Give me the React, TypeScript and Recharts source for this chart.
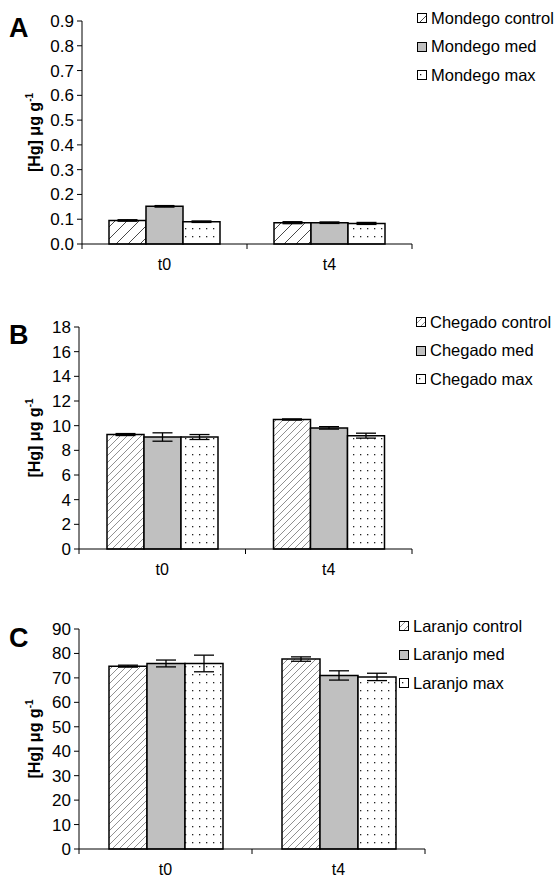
import React from 'react';
import { BarChart, Bar, XAxis, YAxis, ErrorBar } from 'recharts';

const FONT = '"Liberation Sans", Arial, sans-serif';

// shared categories
const categories = ['t0', 't4'];

// A - Mondego
const mondegoControl = [0.095, 0.086];
const mondegoMed = [0.152, 0.086];
const mondegoMax = [0.09, 0.083];
const mondegoControlErr = [0.003, 0.004];
const mondegoMedErr = [0.003, 0.003];
const mondegoMaxErr = [0.003, 0.004];
const mondegoTicks = [0, 0.1, 0.2, 0.3, 0.4, 0.5, 0.6, 0.7, 0.8, 0.9];

// B - Chegado
const chegadoControl = [9.28, 10.5];
const chegadoMed = [9.08, 9.82];
const chegadoMax = [9.08, 9.19];
const chegadoControlErr = [0.08, 0.05];
const chegadoMedErr = [0.34, 0.1];
const chegadoMaxErr = [0.2, 0.2];
const chegadoTicks = [0, 2, 4, 6, 8, 10, 12, 14, 16, 18];

// C - Laranjo
const laranjoControl = [74.8, 77.7];
const laranjoMed = [75.9, 71.0];
const laranjoMax = [75.9, 70.4];
const laranjoControlErr = [0.4, 0.9];
const laranjoMedErr = [1.4, 1.9];
const laranjoMaxErr = [3.4, 1.5];
const laranjoTicks = [0, 10, 20, 30, 40, 50, 60, 70, 80, 90];

function buildRows(c: number[], m: number[], x: number[], ce: number[], me: number[], xe: number[]) {
  return categories.map((cat, i) => ({
    cat,
    control: c[i],
    med: m[i],
    max: x[i],
    controlErr: ce[i],
    medErr: me[i],
    maxErr: xe[i],
  }));
}

const TICK = 5;
const TICK_GAP = 10;

// category label + Excel-style tick marks on the group boundaries
const CatTick = (props: any) => {
  const { x, y, payload, index, visibleTicksCount } = props;
  const off = payload?.offset ?? 0;
  const axisY = y - TICK - TICK_GAP;
  const last = index === visibleTicksCount - 1;
  return (
    <g>
      <line x1={x - off} x2={x - off} y1={axisY} y2={axisY + TICK} stroke="#000" />
      {last && <line x1={x + off} x2={x + off} y1={axisY} y2={axisY + TICK} stroke="#000" />}
      <text x={x} y={y} dy="0.71em" textAnchor="middle" fontSize={16} fontFamily={FONT} fill="#000">
        {payload.value}
      </text>
    </g>
  );
};

const Swatch = ({ fill }: { fill: string }) => (
  <svg width={10} height={10} style={{ display: 'block' }}>
    <rect x={0.5} y={0.5} width={9} height={9} fill={fill} stroke="#000" strokeWidth={1} />
  </svg>
);

const YLabel = (props: any) => {
  const vb = props.viewBox || {};
  const x = (vb.x || 0) + 40;
  const y = (vb.y || 0) + (vb.height || 0) / 2;
  return (
    <text
      x={x}
      y={y}
      transform={`rotate(-90 ${x} ${y})`}
      textAnchor="middle"
      fontFamily={FONT}
      fontWeight="bold"
      fontSize={16}
      fill="#000"
    >
      [Hg] μg g<tspan dy={-7} fontSize={10}>-1</tspan>
    </text>
  );
};

interface PanelProps {
  rows: any[];
  names: string[];
  ticks: number[];
  fmt: (v: number) => string;
  top: number;
  height: number;
  marginTop: number;
  marginBottom: number;
  yWidth: number;
  right: number;
  barSize: number;
  legendLeft: number;
  legendTop: number;
  hatch: string;
}

function Panel(p: PanelProps) {
  const fills = [`url(#${p.hatch})`, '#c0c0c0', 'url(#dots)'];
  const keys = ['control', 'med', 'max'];
  return (
    <div style={{ position: 'absolute', left: 0, top: p.top, width: 560, height: p.height }}>
      <BarChart
        width={560}
        height={p.height}
        data={p.rows}
        barGap={0}
        barSize={p.barSize}
        margin={{ top: p.marginTop, right: p.right, bottom: p.marginBottom, left: 0 }}
      >
        <XAxis
          dataKey="cat"
          tickLine={false}
          axisLine={{ stroke: '#000', strokeWidth: 1 }}
          tickSize={TICK}
          tickMargin={TICK_GAP}
          height={30}
          interval={0}
          tick={<CatTick />}
        />
        <YAxis
          width={p.yWidth}
          domain={[0, p.ticks[p.ticks.length - 1]]}
          ticks={p.ticks}
          interval={0}
          tickFormatter={p.fmt}
          tickSize={5}
          tickMargin={3}
          axisLine={{ stroke: '#000' }}
          tickLine={{ stroke: '#000' }}
          tick={{ fill: '#000', fontSize: 17, fontFamily: FONT }}
          label={<YLabel />}
        />
        {keys.map((k, i) => (
          <Bar
            key={k}
            dataKey={k}
            name={p.names[i]}
            fill={fills[i]}
            stroke="#000"
            strokeWidth={1.5}
            isAnimationActive={false}
          >
            <ErrorBar dataKey={`${k}Err`} width={10} stroke="#000" strokeWidth={1.3} direction="y" />
          </Bar>
        ))}
      </BarChart>
      <div
        style={{
          position: 'absolute',
          left: p.legendLeft,
          top: p.legendTop,
          fontFamily: FONT,
          fontSize: 16.5,
          color: '#000',
          whiteSpace: 'nowrap',
        }}
      >
        {p.names.map((n, i) => (
          <div key={n} style={{ display: 'flex', alignItems: 'center', height: 28.5, gap: 4 }}>
            <Swatch fill={fills[i]} />
            <span>{n}</span>
          </div>
        ))}
      </div>
    </div>
  );
}

export default function App() {
  const f1 = (v: number) => v.toFixed(1);
  const f0 = (v: number) => String(v);
  return (
    <div style={{ position: 'absolute', left: 0, top: 0, width: 560, height: 881, background: '#fff' }}>
      <svg width={0} height={0} style={{ position: 'absolute' }}>
        <defs>
          <pattern id="hatchA" patternUnits="userSpaceOnUse" width={12} height={12}>
            <rect width={12} height={12} fill="#fff" />
            <path d="M0,12 L12,0 M-2,2 L2,-2 M10,14 L14,10" stroke="#333" strokeWidth={0.9} />
          </pattern>
          <pattern id="hatchB" patternUnits="userSpaceOnUse" width={7} height={7}>
            <rect width={7} height={7} fill="#fff" />
            <path d="M0,7 L7,0 M-2,2 L2,-2 M5,9 L9,5" stroke="#444" strokeWidth={0.6} />
          </pattern>
          <pattern id="dots" patternUnits="userSpaceOnUse" width={7} height={8}>
            <rect width={7} height={8} fill="#fff" />
            <rect x={3} y={4} width={1.3} height={1.3} fill="#222" />
          </pattern>
        </defs>
      </svg>
      <Panel
        rows={buildRows(mondegoControl, mondegoMed, mondegoMax, mondegoControlErr, mondegoMedErr, mondegoMaxErr)}
        names={['Mondego control', 'Mondego med', 'Mondego max']}
        ticks={mondegoTicks}
        fmt={f1}
        top={0}
        height={280}
        marginTop={21}
        marginBottom={6}
        yWidth={82}
        right={148}
        barSize={37}
        legendLeft={417}
        legendTop={4}
        hatch="hatchA"
      />
      <Panel
        rows={buildRows(chegadoControl, chegadoMed, chegadoMax, chegadoControlErr, chegadoMedErr, chegadoMaxErr)}
        names={['Chegado control', 'Chegado med', 'Chegado max']}
        ticks={chegadoTicks}
        fmt={f0}
        top={290}
        height={290}
        marginTop={37}
        marginBottom={1}
        yWidth={79}
        right={148}
        barSize={37}
        legendLeft={416}
        legendTop={18}
        hatch="hatchB"
      />
      <Panel
        rows={buildRows(laranjoControl, laranjoMed, laranjoMax, laranjoControlErr, laranjoMedErr, laranjoMaxErr)}
        names={['Laranjo control', 'Laranjo med', 'Laranjo max']}
        ticks={laranjoTicks}
        fmt={f0}
        top={590}
        height={291}
        marginTop={39}
        marginBottom={2}
        yWidth={79}
        right={135}
        barSize={38}
        legendLeft={399}
        legendTop={22}
        hatch="hatchB"
      />
      <svg width={560} height={881} style={{ position: 'absolute', left: 0, top: 0, pointerEvents: 'none' }}>
        <text x={9} y={37} fontFamily={FONT} fontWeight="bold" fontSize={27} fill="#000">A</text>
        <text x={9} y={344} fontFamily={FONT} fontWeight="bold" fontSize={27} fill="#000">B</text>
        <text x={9} y={647} fontFamily={FONT} fontWeight="bold" fontSize={27} fill="#000">C</text>
      </svg>
    </div>
  );
}
